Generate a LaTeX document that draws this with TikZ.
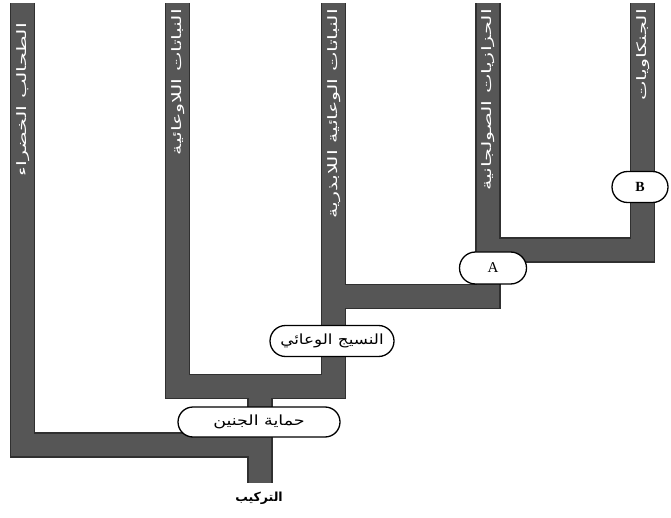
\documentclass[tikz,border=0pt]{standalone}
\usepackage{fontspec}
\usepackage{graphicx}
\newfontfamily\arabicfont[Script=Arabic]{DejaVu Sans}
\setmainfont{Liberation Serif}
\TeXXeTstate=1
\usetikzlibrary{shapes.misc}

\definecolor{barfill}{RGB}{86,86,86}
\definecolor{baredge}{RGB}{48,48,48}

\begin{document}
\begin{tikzpicture}[x=1pt,y=-1pt,
  barline/.style={draw=baredge, line width=25.5pt, line join=miter, line cap=butt},
  barcore/.style={draw=barfill, line width=22.5pt, line join=miter, line cap=butt},
  trait/.style={rounded rectangle, draw=black, line width=1.3pt, fill=white,
    inner sep=0pt, minimum height=30pt},
  traittext/.style={trait, font=\arabicfont\fontsize{14}{15}\selectfont},
  taxon/.style={text=white, rotate=90, anchor=east, inner sep=0pt,
    font=\arabicfont\fontsize{13}{14}\selectfont}]
\useasboundingbox (0,0) rectangle (671,518);

% tips of the five lineages and the branching points
\coordinate (t1) at (22.5,3);
\coordinate (t2) at (177.5,3);
\coordinate (t3) at (333.5,3);
\coordinate (t4) at (488,3);
\coordinate (t5) at (642.5,3);
\coordinate (r)  at (260,483);
\coordinate (j1) at (260,445);
\coordinate (j2) at (260,386.5);
\coordinate (j3) at (333.5,296.5);
\coordinate (j4) at (488,250);

% thick branches: dark rim first, then the grey core
\draw[barline] (t1) |- (j1) (j2) -- (r) (t2) |- (j2) -| (t3)
  (j3) -| (t4) (j4) -| (t5);
\draw[barcore] (t1) |- (j1) (j2) -- (r) (t2) |- (j2) -| (t3)
  (j3) -| (t4) (j4) -| (t5);

% names of the lineages along the branches
\node[taxon] (n1) at (23,23) {\scalebox{1.6}[1]{\beginR الطحالب الخضراء\endR}};
\node[taxon] (n2) at (178,9) {\scalebox{1.6}[1]{\beginR النباتات اللاوعائية\endR}};
\node[taxon] (n3) at (334,9) {\scalebox{1.6}[1]{\beginR النباتات الوعائية اللابذرية\endR}};
\node[taxon] (n4) at (488.5,9) {\scalebox{1.6}[1]{\beginR الحزازيات الصولجانية\endR}};
\node[taxon] (n5) at (643,9) {\scalebox{1.6}[1]{\beginR الجنكاويات\endR}};

% derived characters
\node[traittext, minimum width=162pt] (embryo) at (259,422)
  {\scalebox{1.25}[1]{\beginR حماية الجنين\endR}};
\node[traittext, minimum width=124pt, minimum height=31pt] (vascular) at (332,341)
  {\scalebox{1.2}[1]{\beginR النسيج الوعائي\endR}};
\node[trait, minimum width=67pt, minimum height=32pt, font=\fontsize{15}{16}\selectfont] (A) at (493,268) {A};
\node[trait, minimum width=56pt, minimum height=31pt, font=\bfseries\fontsize{14}{16}\selectfont] (B) at (640,187) {B};

% root label
\node[font=\arabicfont\bfseries\fontsize{12.5}{14}\selectfont] (root) at (259,498)
  {\beginR التركيب\endR};
\end{tikzpicture}
\end{document}
